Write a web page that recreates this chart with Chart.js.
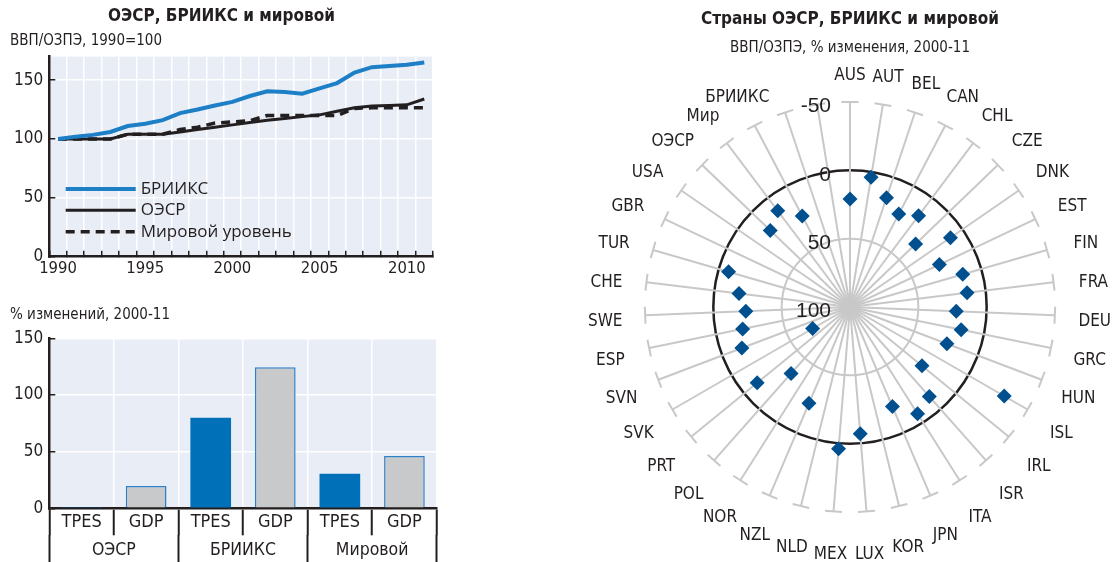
<!DOCTYPE html>
<html><head><meta charset="utf-8">
<script src="https://cdn.jsdelivr.net/npm/chart.js@4.4.1/dist/chart.umd.min.js"></script>
<style>
html,body{margin:0;padding:0;background:#fff;width:1112px;height:562px;overflow:hidden;}
.box{position:absolute;}
</style></head><body>
<div class="box" style="left:0;top:0;width:445px;height:285px"><canvas id="c1"></canvas></div>
<div class="box" style="left:0;top:290px;width:445px;height:272px"><canvas id="c2"></canvas></div>
<div class="box" style="left:560px;top:0;width:552px;height:562px"><canvas id="c3"></canvas></div>
<script>
// ---------- data ----------
const YEARS = [1990,1991,1992,1993,1994,1995,1996,1997,1998,1999,2000,2001,2002,2003,2004,2005,2006,2007,2008,2009,2010,2011];
const BRIICS = [100,102,103.5,106,111,113,116,122,125,128.5,131.5,136.5,140.5,140,138.5,143,147.5,156.5,161,162,163,165];
const OECD   = [100,100,100,100,104,104,104,106,108,110,112,114,116,117.5,119,120.5,123.5,126.5,128,128.5,129,134];
const WORLD  = [100,100,100,100,104,104,104,108,110,113.5,114.5,115.5,120,120,120,120,120,126,126.5,126.5,126.5,126.5];
const LINE_LABELS = ['БРИИКС','ОЭСР','Мировой уровень'];

const BAR_GROUPS = ['ОЭСР','БРИИКС','Мировой'];
const BAR_MEASURES = ['TPES','GDP'];
const TPES_CHANGE = [1, 80, 30.5];
const GDP_CHANGE  = [19.7, 124.4, 46.2];

const RADAR_LABELS = ['AUS','AUT','BEL','CAN','CHL','CZE','DNK','EST','FIN','FRA','DEU','GRC','HUN','ISL','IRL','ISR','ITA','JPN','KOR','LUX','MEX','NLD','NZL','NOR','POL','PRT','SVK','SVN','ESP','SWE','CHE','TUR','GBR','USA','ОЭСР','Мир','БРИИКС','',''];
const RADAR_VALUES = [21.0,3.8,15.7,23.2,16.5,33.4,10.7,27.6,14.1,13.7,22.2,17.0,24.2,-30.3,32.0,12.5,7.5,20.8,null,7.0,-4.1,null,23.4,null,35.0,12.3,68.4,15.4,19.8,23.7,18.2,7.5,null,null,19.1,12.0,24.8,null,null];

// ---------- styles ----------
const NARROW = "'DejaVu Sans Condensed','Arial Narrow',sans-serif";
const REGULAR = "'Liberation Sans',Arial,sans-serif";
const INK = '#231f20';
const PLOT_BG = '#e9edf6';
Chart.defaults.font.family = NARROW;
Chart.defaults.color = INK;
Chart.defaults.animation = false;

const plotBg = { id:'plotBg', beforeDraw(chart, args, o){ const {ctx, chartArea:a} = chart; ctx.save(); ctx.fillStyle = o.color; ctx.fillRect(a.left, a.top, a.right-a.left, a.bottom-a.top); ctx.restore(); } };

const insideLegend = { id:'insideLegend', afterDatasetsDraw(chart, args, o){
  const {ctx, chartArea:a} = chart; ctx.save();
  ctx.font = o.font; ctx.textBaseline = 'middle'; ctx.textAlign = 'left';
  const n = chart.data.datasets.length;
  chart.data.datasets.forEach((ds, i) => {
    const y = a.bottom - o.bottom - (n-1-i)*o.rowGap;
    const x = a.left + o.left;
    ctx.strokeStyle = ds.borderColor; ctx.lineWidth = ds.borderWidth; ctx.setLineDash(ds.borderDash || []);
    ctx.beginPath(); ctx.moveTo(x, y); ctx.lineTo(x + o.lineLen, y); ctx.stroke();
    ctx.setLineDash([]); ctx.fillStyle = o.color; ctx.fillText(ds.label, x + o.lineLen + o.textGap, y);
  });
  ctx.restore();
}};

const gridInside = { color:'#ffffff', lineWidth:1.5, tickColor:INK, tickWidth:1.5, tickLength:-6 };
const axisBorder = { color:INK, width:2.5 };

// ---------- chart 1: lines ----------
new Chart(document.getElementById('c1'), {
  type:'line',
  data:{ labels: YEARS, datasets:[
    { label: LINE_LABELS[0], data: BRIICS, borderColor:'#1d7fc6', borderWidth:4, pointRadius:0, tension:0 },
    { label: LINE_LABELS[1], data: OECD, borderColor:INK, borderWidth:3, pointRadius:0, tension:0 },
    { label: LINE_LABELS[2], data: WORLD, borderColor:INK, borderWidth:3.5, borderDash:[9,6], pointRadius:0, tension:0 }
  ]},
  options:{
    responsive:true, maintainAspectRatio:false,
    layout:{ padding:{left:10, right:12, top:0, bottom:0} },
    plugins:{
      legend:{display:false}, tooltip:{enabled:false},
      title:{display:true, text:'ОЭСР, БРИИКС и мировой', font:{size:17, weight:'bold'}, color:INK, padding:{top:6.6, bottom:2}},
      subtitle:{display:true, text:'ВВП/ОЗПЭ, 1990=100', align:'start', font:{size:15}, color:INK, padding:{top:3.6, bottom:6}},
      plotBg:{color:PLOT_BG},
      insideLegend:{left:16.4, bottom:25, rowGap:21.35, lineLen:70, textGap:5, font:"17px 'Open Sans'", color:INK}
    },
    scales:{
      x:{ type:'category', offset:true, grid:{...gridInside, offset:true}, border:axisBorder,
          ticks:{autoSkip:false, maxRotation:0, padding:8.5, font:{size:16.5}, callback:(v,i)=> YEARS[i] % 5 === 0 ? String(YEARS[i]) : ''},
          afterFit(s){ s.height = 28.3; } },
      y:{ min:0, max:170, grid:gridInside, border:axisBorder,
          ticks:{stepSize:50, includeBounds:false, padding:12, font:{size:17}},
          afterFit(s){ s.width = 39.3; } }
    }
  },
  plugins:[plotBg, insideLegend]
});

// ---------- chart 2: bars ----------
const barLabels = BAR_GROUPS.flatMap(() => BAR_MEASURES);
const barValues = BAR_GROUPS.flatMap((g, i) => [TPES_CHANGE[i], GDP_CHANGE[i]]);
new Chart(document.getElementById('c2'), {
  type:'bar',
  data:{ labels: barLabels, datasets:[{
    data: barValues,
    backgroundColor: barLabels.map(m => m === 'TPES' ? '#0070b9' : '#c8c9cb'),
    borderColor: barLabels.map(m => m === 'TPES' ? '#0070b9' : '#2f7fc4'),
    borderWidth: barLabels.map(m => m === 'TPES' ? 0 : 1.5),
    barPercentage:0.63, categoryPercentage:1
  }]},
  options:{
    responsive:true, maintainAspectRatio:false,
    layout:{ padding:{left:10, right:8.3, top:0, bottom:0} },
    plugins:{
      legend:{display:false}, tooltip:{enabled:false},
      title:{display:true, text:'% изменений, 2000-11', align:'start', font:{size:15, weight:'normal'}, color:INK, padding:{top:16, bottom:14.3}},
      plotBg:{color:PLOT_BG}
    },
    scales:{
      x:{ type:'category', offset:true, weight:0,
          grid:{offset:true, color:'#ffffff', lineWidth:1.5, tickColor:INK, tickWidth:2, tickLength:27},
          border:axisBorder, ticks:{autoSkip:false, maxRotation:0, padding:-23.5, font:{size:18}},
          afterFit(s){ s.height = 26.7; } },
      x2:{ type:'category', position:'bottom', labels: BAR_GROUPS, offset:true, weight:1,
          grid:{offset:true, drawOnChartArea:false, tickColor:INK, tickWidth:2, tickLength:27},
          border:{display:false}, ticks:{autoSkip:false, maxRotation:0, padding:-22, font:{size:17.5}},
          afterFit(s){ s.height = 27; } },
      y:{ min:0, max:150, grid:gridInside, border:axisBorder,
          ticks:{stepSize:50, padding:12, font:{size:17}},
          afterFit(s){ s.width = 39.3; } }
    }
  },
  plugins:[plotBg]
});

// ---------- chart 3: radar ----------
const spokeCaps = { id:'spokeCaps', beforeDatasetsDraw(chart, args, o){
  const s = chart.scales.r, ctx = chart.ctx; ctx.save();
  ctx.strokeStyle = o.color; ctx.lineWidth = o.width;
  chart.data.labels.forEach((l, i) => {
    const p = s.getPointPosition(i, s.drawingArea); const a = s.getIndexAngle(i);
    const ux = Math.cos(a), uy = Math.sin(a);
    ctx.beginPath(); ctx.moveTo(p.x - ux*o.half, p.y - uy*o.half); ctx.lineTo(p.x + ux*o.half, p.y + uy*o.half); ctx.stroke();
  });
  ctx.restore();
}};
const radialTickLabels = { id:'radialTickLabels', afterDatasetsDraw(chart, args, o){
  const s = chart.scales.r, ctx = chart.ctx; ctx.save();
  ctx.font = o.font; ctx.fillStyle = o.color; ctx.textAlign = 'right'; ctx.textBaseline = 'middle';
  s.ticks.forEach(t => { const d = s.getDistanceFromCenterForValue(t.value); ctx.fillText(String(t.label ?? t.value), s.xCenter + o.dx, s.yCenter - d + o.dy); });
  ctx.restore();
}};
// category names centred on their spokes, just outside the outer ring
const radialCategoryLabels = { id:'radialCategoryLabels', afterDraw(chart, args, o){
  const s = chart.scales.r, ctx = chart.ctx; ctx.save();
  ctx.font = o.font; ctx.fillStyle = o.color; ctx.textAlign = 'center'; ctx.textBaseline = 'middle';
  chart.data.labels.forEach((label, i) => {
    if (!label) return;
    const c = Math.cos(s.getIndexAngle(i));
    const dist = s.drawingArea + o.gap - o.bottomExtra*c - o.topPull*Math.pow(Math.max(0, c), 8);
    const p = s.getPointPosition(i, dist);
    ctx.fillText(label, p.x, p.y + o.dy);
  });
  ctx.restore();
}};
new Chart(document.getElementById('c3'), {
  type:'radar',
  data:{ labels: RADAR_LABELS, datasets:[{
    data: RADAR_VALUES, showLine:false, fill:false, borderWidth:0,
    pointStyle:'rectRot', pointRadius:7.5, pointHoverRadius:7.5,
    pointBackgroundColor:'#00508f', pointBorderColor:'#00508f', pointBorderWidth:0
  }]},
  options:{
    responsive:true, maintainAspectRatio:false,
    layout:{ padding:{left:85, right:57, top:0, bottom:8} },
    plugins:{
      legend:{display:false}, tooltip:{enabled:false},
      title:{display:true, text:'Страны ОЭСР, БРИИКС и мировой', font:{size:17, weight:'bold'}, color:INK, padding:{top:9.8, bottom:4}},
      subtitle:{display:true, text:'ВВП/ОЗПЭ, % изменения, 2000-11', font:{size:15}, color:INK, padding:{top:4.6, bottom:5}},
      spokeCaps:{color:'#c8c8c8', width:2, half:8.5},
      radialTickLabels:{font:"21px "+REGULAR, color:INK, dx:-19, dy:4.5},
      radialCategoryLabels:{font:"17px "+NARROW, color:INK, gap:40, bottomExtra:-2, topPull:11, dy:5}
    },
    scales:{ r:{
      reverse:true, min:-50, max:100,
      ticks:{stepSize:50, display:false},
      grid:{ circular:true,
        color: c => c.tick && c.tick.value === 0 ? INK : (c.tick && c.tick.value === 50 ? '#c8c8c8' : 'rgba(0,0,0,0)'),
        lineWidth: c => c.tick && c.tick.value === 0 ? 2.5 : 2 },
      angleLines:{ color:'#c8c8c8', lineWidth:2 },
      pointLabels:{ display:false }
    }}
  },
  plugins:[spokeCaps, radialTickLabels, radialCategoryLabels]
});
</script>
</body></html>
